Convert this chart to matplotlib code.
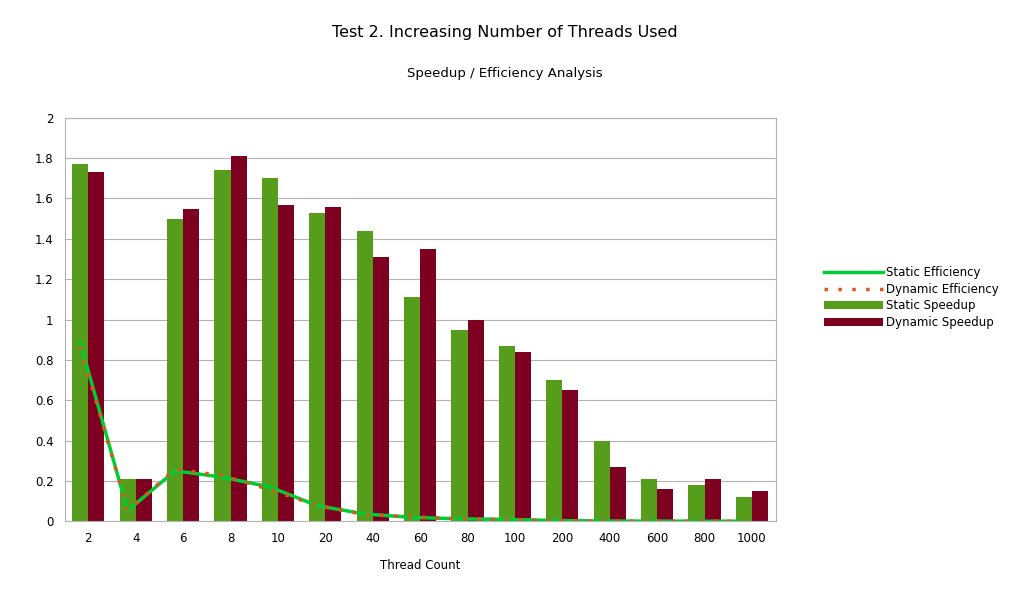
import matplotlib
matplotlib.use('Agg')
import matplotlib.pyplot as plt
import numpy as np

threads = ['2', '4', '6', '8', '10', '20', '40', '60', '80', '100', '200', '400', '600', '800', '1000']
static_speedup = [1.77, 0.21, 1.50, 1.74, 1.70, 1.53, 1.44, 1.11, 0.95, 0.87, 0.70, 0.40, 0.21, 0.18, 0.12]
dynamic_speedup = [1.73, 0.21, 1.55, 1.81, 1.57, 1.56, 1.31, 1.35, 1.00, 0.84, 0.65, 0.27, 0.16, 0.21, 0.15]
static_eff = [0.885, 0.053, 0.25, 0.218, 0.17, 0.077, 0.036, 0.019, 0.012, 0.009, 0.0035, 0.001, 0.0004, 0.0002, 0.0001]
dynamic_eff = [0.865, 0.053, 0.258, 0.226, 0.157, 0.078, 0.033, 0.022, 0.0125, 0.0084, 0.0033, 0.0007, 0.0003, 0.0003, 0.0002]

fig = plt.figure(figsize=(10.1, 5.95), dpi=100)
ax = fig.add_axes([0.064, 0.124, 0.704, 0.678])
x = np.arange(len(threads))
w = 0.34
ax.bar(x - w / 2, static_speedup, w, color='#579d1c', label='Static Speedup', zorder=2)
ax.bar(x + w / 2, dynamic_speedup, w, color='#7e0021', label='Dynamic Speedup', zorder=2)
ax.plot(x - w / 2, static_eff, color='#00cc33', lw=2.5, label='Static Efficiency', zorder=3)
ax.plot(x - w / 2, dynamic_eff, color='#e8501e', lw=2.5, ls=(0, (1, 3)), label='Dynamic Efficiency', zorder=4)

ax.set_xlim(-0.5, len(threads) - 0.5)
ax.set_ylim(0, 2)
ax.set_yticks(np.arange(0, 2.01, 0.2))
ax.set_yticklabels(['0', '0.2', '0.4', '0.6', '0.8', '1', '1.2', '1.4', '1.6', '1.8', '2'])
ax.set_xticks(x)
ax.set_xticklabels(threads)
ax.tick_params(labelsize=8.5, length=0, pad=8)
ax.grid(axis='y', color='#b3b3b3', lw=0.8, zorder=0)
for s in ax.spines.values():
    s.set_color('#b3b3b3')
ax.set_xlabel('Thread Count', fontsize=8.5, labelpad=10)

fig.text(0.5, 0.946, 'Test 2. Increasing Number of Threads Used', ha='center', va='center', fontsize=11.5)
fig.text(0.5, 0.877, 'Speedup / Efficiency Analysis', ha='center', va='center', fontsize=9.5)
fig.legend(loc='center left', bbox_to_anchor=(0.805, 0.50), frameon=False, fontsize=8.5,
           handlelength=5, labelspacing=0.3, handletextpad=0.3)

fig.savefig('out.png')
